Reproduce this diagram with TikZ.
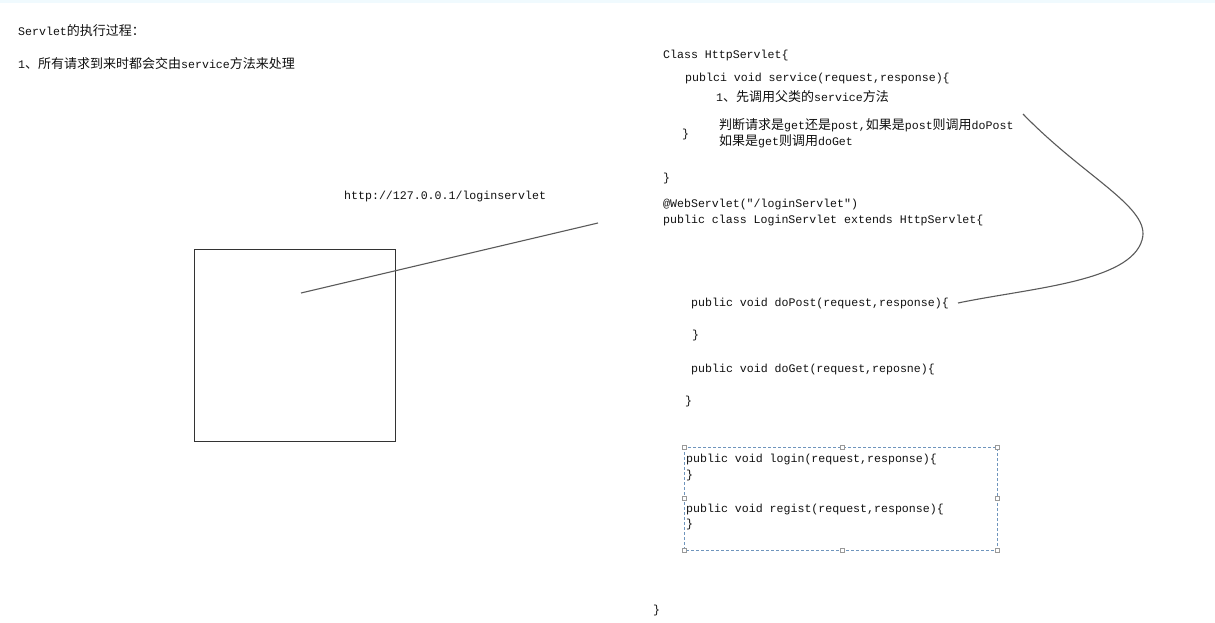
\documentclass[tikz,border=0pt]{standalone}
\usepackage{fontspec}
\newfontfamily\codefont{Liberation Mono}[Scale=1.0]
\newfontfamily\cjkfont{Noto Sans CJK SC}
\newcommand{\zh}[1]{{\cjkfont\fontsize{13}{14}\selectfont #1}}
\definecolor{txt}{HTML}{111111}
\definecolor{ln}{HTML}{5A5A5A}
\definecolor{dsh}{HTML}{6F95BD}
\tikzset{
  code/.style={anchor=base west, inner sep=0pt, text=txt, font=\codefont\fontsize{11.6}{13}\selectfont},
  conn/.style={draw=ln, line width=1.1pt},
  handle/.style={draw=gray!80, fill=white, line width=0.5pt, minimum size=4pt, inner sep=0pt, rectangle}
}
\begin{document}
\begin{tikzpicture}[x=1pt,y=-1pt]
\useasboundingbox (0,0) rectangle (1215,623);
\fill[white] (0,0) rectangle (1215,623);
\fill[cyan!6] (0,0) rectangle (1215,3);
% left texts
\node[code] (t1) at (18,36) {Servlet\zh{的执行过程：}};
\node[code] (t2) at (18,69) {1\zh{、所有请求到来时都会交由}service\zh{方法来处理}};
\node[code] (url) at (344,199) {http://127.0.0.1/loginservlet};
% box
\node[draw=black!80, line width=1pt, minimum width=201pt, minimum height=192pt, inner sep=0pt, anchor=north west] (box) at (194,249) {};
\coordinate (p1) at (301,293);
\coordinate (p2) at (598,223);
\draw[conn] (p1) -- (p2);
% right code
\node[code] (c1) at (663,59) {Class HttpServlet\{};
\node[code] (c2) at (685,82) {publci void service(request,response)\{};
\node[code] (c3) at (716,102) {1\zh{、先调用父类的}service\zh{方法}};
\node[code] (c4) at (719,130) {\zh{判断请求是}get\zh{还是}post,\zh{如果是}post\zh{则调用}doPost};
\node[code] (c5) at (682,138) {\}};
\node[code] (c6) at (719,146) {\zh{如果是}get\zh{则调用}doGet};
\node[code] (c7) at (663,181) {\}};
\node[code] (c8) at (663,207) {@WebServlet("/loginServlet")};
\node[code] (c9) at (663,223) {public class LoginServlet extends HttpServlet\{};
\node[code] (c10) at (691,306) {public void doPost(request,response)\{};
\node[code] (c11) at (692,338) {\}};
\node[code] (c12) at (691,372) {public void doGet(request,reposne)\{};
\node[code] (c13) at (685,404) {\}};
% dashed box
\draw[dsh, line width=0.8pt, dash pattern=on 3pt off 2pt] (684,447) rectangle (997,550);
\foreach \hx/\hy [count=\i] in {684/447,842/447,997/447,684/498,997/498,684/550,842/550,997/550}
  \node[handle] (h\i) at (\hx,\hy) {};
\node[code] (d1) at (686,462) {public void login(request,response)\{};
\node[code] (d2) at (686,478) {\}};
\node[code] (d3) at (686,512) {public void regist(request,response)\{};
\node[code] (d4) at (686,527) {\}};
\node[code] (c14) at (653,613) {\}};
% curve
\coordinate (q1) at (1023,114);
\coordinate (q2) at (1142,240);
\coordinate (q3) at (958,303);
\draw[conn] (q1) .. controls (1085,178) and (1152,208) .. (q2) .. controls (1130,282) and (1030,288) .. (q3);
\end{tikzpicture}
\end{document}
